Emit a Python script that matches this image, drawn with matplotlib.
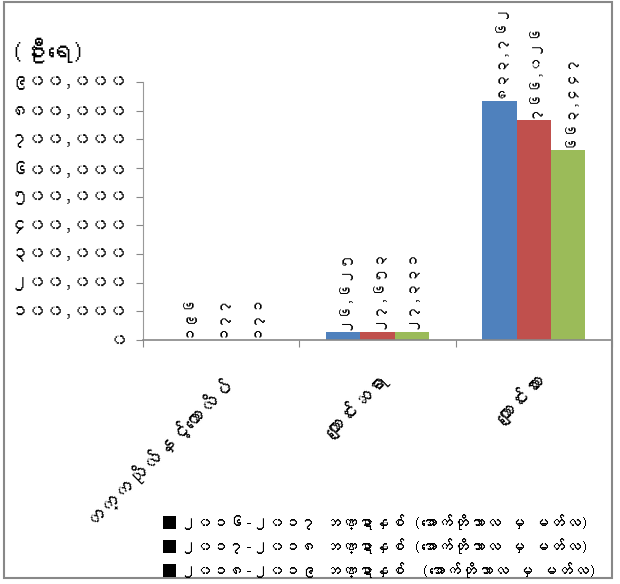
import matplotlib
matplotlib.use("Agg")
import matplotlib.pyplot as plt
from matplotlib import font_manager
from matplotlib.ft2font import FT2Font
from matplotlib.patches import Rectangle, Patch
from matplotlib.ticker import FuncFormatter
import numpy as np

categories = ["တက္ကသိုလ်နှင့်ကောလိပ်", "ကျောင်းဆရာ", "ကျောင်းသား"]
series_names = [
    "၂၀၁၆-၂၀၁၇ ဘဏ္ဍာနှစ် (အောက်တိုဘာလ မှ မတ်လ)",
    "၂၀၁၇-၂၀၁၈ ဘဏ္ဍာနှစ် (အောက်တိုဘာလ မှ မတ်လ)",
    "၂၀၁၈-၂၀၁၉ ဘဏ္ဍာနှစ်  (အောက်တိုဘာလ မှ မတ်လ)",
]
values_1617 = [196, 26625, 833762]
values_1718 = [177, 27653, 766026]
values_1819 = [171, 27331, 663447]
colors = ["#4F81BD", "#C0504D", "#9BBB59"]
y_title = "(ဦးရေ)"

MM_DIGITS = str.maketrans("0123456789", "၀၁၂၃၄၅၆၇၈၉")


def mm_num(v):
    return f"{int(round(v)):,}".translate(MM_DIGITS)


# look for any installed font that can draw Myanmar script
def find_myanmar_font():
    for f in font_manager.fontManager.ttflist:
        try:
            if 0x1000 in FT2Font(f.fname).get_charmap():
                return f.name
        except Exception:
            pass
    return None


mm_font = find_myanmar_font()
families = [mm_font, "DejaVu Sans"] if mm_font else ["DejaVu Sans"]
plt.rcParams["font.family"] = families

fig = plt.figure(figsize=(6.2, 5.84), dpi=100)
ax = fig.add_axes([143 / 620, 244 / 584, (612 - 143) / 620, (340 - 82) / 584])

x = np.arange(len(categories))
w = 0.22
all_series = [values_1617, values_1718, values_1819]
for i, vals in enumerate(all_series):
    pos = x + (i - 1) * w
    ax.bar(pos, vals, width=w, color=colors[i], label=series_names[i])
    for p, v in zip(pos, vals):
        ax.annotate(mm_num(v), (p, v), xytext=(0, 2), textcoords="offset points",
                    rotation=90, ha="center", va="bottom", fontsize=10.5,
                    annotation_clip=False)

ax.set_xlim(-0.5, 2.43)
ax.set_ylim(0, 900000)
ax.set_yticks(np.arange(0, 900001, 100000))
ax.yaxis.set_major_formatter(FuncFormatter(lambda v, p: mm_num(v)))
ax.tick_params(axis="y", labelsize=13, length=5, color="#888888", pad=6)

ax.set_xticks([-0.5, 0.5, 1.5, 2.5], minor=False)
ax.set_xticklabels([])
ax.tick_params(axis="x", length=5, color="#888888", direction="out")
ax.set_xticks(x, minor=True)
ax.set_xticklabels(categories, minor=True, rotation=45, ha="right", va="top",
                   rotation_mode="anchor", fontsize=14.5)
ax.tick_params(axis="x", which="minor", length=0, pad=22)

for s in ["top", "right"]:
    ax.spines[s].set_visible(False)
ax.spines["left"].set_color("#999999")
ax.spines["bottom"].set_color("#888888")
ax.spines["bottom"].set_linewidth(1.2)

fig.text(10 / 620, 1 - 50 / 584, y_title, fontsize=18, fontweight="bold",
         va="center", ha="left")

handles = [Patch(facecolor="black") for _ in series_names]
fig.legend(handles, series_names, loc="upper left",
           bbox_to_anchor=(155 / 620, 1 - 506 / 584), frameon=False,
           fontsize=11.5, handlelength=0.8, handleheight=0.8,
           handletextpad=0.3, labelspacing=0.5, borderpad=0)

fig.patches.append(Rectangle((4 / 620, 6 / 584), 608 / 620, 576 / 584,
                             transform=fig.transFigure, fill=False,
                             edgecolor="#888888", linewidth=1.5))

fig.savefig("out.png", dpi=100)
